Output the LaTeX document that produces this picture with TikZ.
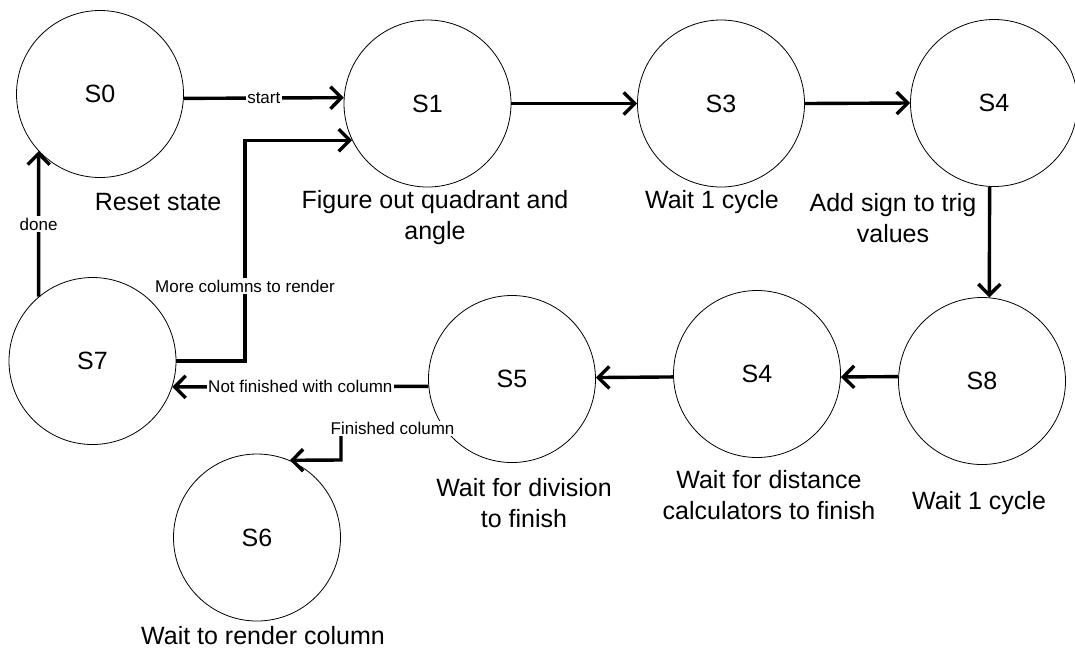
\documentclass[tikz,border=0pt]{standalone}
\usepackage{fontspec}
\setmainfont{Liberation Sans}
\usetikzlibrary{arrows.meta}
\tikzset{
  state/.style={circle, draw, line width=0.8pt, minimum size=167pt, inner sep=0pt, font=\fontsize{25}{30}\selectfont},
  desc/.style={font=\fontsize{25}{31}\selectfont, align=center, inner sep=0pt},
  lbl/.style={font=\fontsize{17}{20}\selectfont, fill=white, inner sep=1.5pt},
  arr/.style={line width=3.4pt, -{Straight Barb[length=11pt,width=22pt]}}
}
\begin{document}
\begin{tikzpicture}[x=1pt,y=-1pt]
\useasboundingbox[fill=white] (0,0) rectangle (1075,649);
% states
\node[state] (S0) at (100,94) {S0};
\node[state] (S1) at (427.5,103.5) {S1};
\node[state] (S3) at (721,103.5) {S3};
\node[state] (S4) at (994,103) {S4};
\node[state] (S8) at (982,381) {S8};
\node[state] (S4b) at (757,374) {S4};
\node[state] (S5) at (512,379) {S5};
\node[state] (S7) at (92.5,361) {S7};
\node[state] (S6) at (257,537.5) {S6};
% descriptions
\node[desc] (d0) at (158,202) {Reset state};
\node[desc] (d1) at (435,217.5) {Figure out quadrant and\\angle};
\node[desc] (d3) at (712,202) {Wait 1 cycle};
\node[desc] (d4) at (893,218.5) {Add sign to trig\\values};
\node[desc] (d8) at (979,503) {Wait 1 cycle};
\node[desc] (d4b) at (769,495.5) {Wait for distance\\calculators to finish};
\node[desc] (d5) at (524,503.5) {Wait for division\\to finish};
\node[desc] (d6) at (263,636) {Wait to render column};
% connectors
\draw[arr] (S0.-3) -- node[lbl] (lstart) {start} (S1.176);
\draw[arr] (S1.east) -- (S3.west);
\draw[arr] (S3.east) -- (S4.west);
\draw[arr] (S4.-93) -- (S8.85);
\draw[arr] (S8.177) -- (S4b.-2);
\draw[arr] (S4b.182) -- (S5.1);
\draw[arr] (S5.185) -- node[lbl] (lnot) {Not finished with column} (S7.-18);
\coordinate (fcb) at (341,460);
\draw[arr] (S5.216) -| node[lbl, pos=0.25] (lfin) {Finished column} (fcb) -- (S6.67);
\coordinate (mc) at (245,286);
\draw[arr] (S7.east) -| (mc) |- (S1.206);
\node[lbl] (lmore) at (mc) {More columns to render};
\draw[arr] (S7.130) -- node[lbl] (ldone) {done} (S0.223);
\end{tikzpicture}
\end{document}
